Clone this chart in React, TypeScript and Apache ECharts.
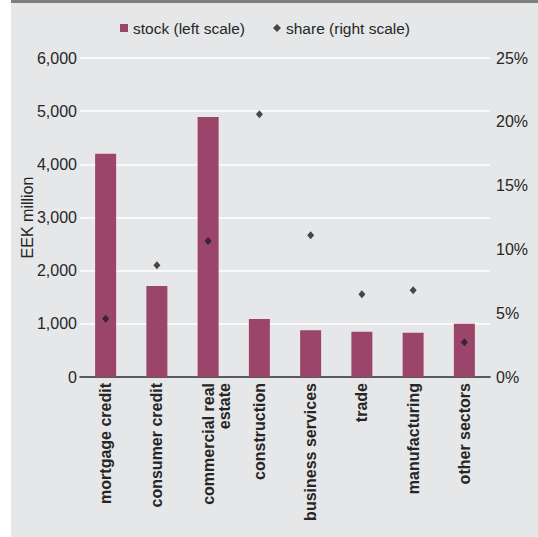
import React, { useEffect, useRef } from "react";
import * as echarts from "echarts";

const categories = [
  "mortgage credit",
  "consumer credit",
  "commercial real\nestate",
  "construction",
  "business services",
  "trade",
  "manufacturing",
  "other sectors",
];
const stock = [4200, 1710, 4890, 1090, 880, 850, 830, 1000];
const share = [4.57, 8.75, 10.66, 20.6, 11.1, 6.48, 6.8, 2.72];
const leftTicks = [0, 1000, 2000, 3000, 4000, 5000, 6000];
const rightTicks = [0, 5, 10, 15, 20, 25];

const FONT = "'Liberation Sans', Arial, Helvetica, sans-serif";
const TXT = "#262626";

export default function App() {
  const ref = useRef<HTMLDivElement>(null);
  useEffect(() => {
    if (!ref.current) return;
    const chart = echarts.init(ref.current, null, { renderer: "svg" });
    chart.setOption({
      animation: false,
      backgroundColor: "#ffffff",
      textStyle: { fontFamily: FONT },
      graphic: [
        { type: "rect", z: -10, shape: { x: 11, y: 0, width: 527, height: 537 }, style: { fill: "#e6e7e8" } },
        { type: "rect", z: -9, shape: { x: 11, y: 0, width: 527, height: 3 }, style: { fill: "#7f7f7f" } },
      ],
      legend: {
        left: 115,
        top: 15,
        itemWidth: 8,
        itemHeight: 8,
        itemGap: 28,
        textStyle: { fontSize: 15.5, color: TXT, fontFamily: FONT },
        data: [
          { name: "stock (left scale)", icon: "rect" },
          { name: "share (right scale)", icon: "diamond" },
        ],
      },
      grid: { left: 80, right: 48, top: 58, bottom: 160 },
      xAxis: {
        type: "category",
        data: categories,
        axisLine: { show: true, lineStyle: { color: "#262626", width: 1.5 } },
        axisTick: { show: false },
        axisLabel: {
          interval: 0,
          rotate: 90,
          margin: 6,
          fontSize: 16,
          fontWeight: "bold",
          color: TXT,
          fontFamily: FONT,
          lineHeight: 16,
          formatter: (v: string) => (v.includes("\n") ? "\n" + v : v),
        },
      },
      yAxis: [
        {
          type: "value",
          min: leftTicks[0],
          max: leftTicks[leftTicks.length - 1],
          interval: 1000,
          name: "EEK million",
          nameLocation: "middle",
          nameGap: 45,
          nameMoveOverlap: false,
          nameTextStyle: { fontSize: 16, color: TXT, fontFamily: FONT },
          axisLine: { show: false },
          axisTick: { show: false },
          axisLabel: {
            margin: 3,
            fontSize: 16,
            color: TXT,
            fontFamily: FONT,
            formatter: (v: number) => v.toLocaleString("en-US"),
          },
          splitLine: { show: true, lineStyle: { color: "#ffffff", width: 1.5 } },
        },
        {
          type: "value",
          min: rightTicks[0],
          max: rightTicks[rightTicks.length - 1],
          interval: 5,
          axisLine: { show: false },
          axisTick: { show: false },
          axisLabel: {
            margin: 6,
            fontSize: 16,
            color: TXT,
            fontFamily: FONT,
            formatter: (v: number) => v + "%",
          },
          splitLine: { show: false },
        },
      ],
      series: [
        {
          name: "stock (left scale)",
          type: "bar",
          data: stock,
          barWidth: 21,
          itemStyle: { color: "#9c456a" },
          yAxisIndex: 0,
        },
        {
          name: "share (right scale)",
          type: "scatter",
          data: share,
          yAxisIndex: 1,
          symbol: "diamond",
          symbolSize: [7, 8],
          itemStyle: { color: "#1e1e1e" },
        },
      ],
    });
    return () => chart.dispose();
  }, []);
  return (
    <div
      ref={ref}
      style={{ position: "absolute", left: 0, top: 0, width: 538, height: 537 }}
    />
  );
}
